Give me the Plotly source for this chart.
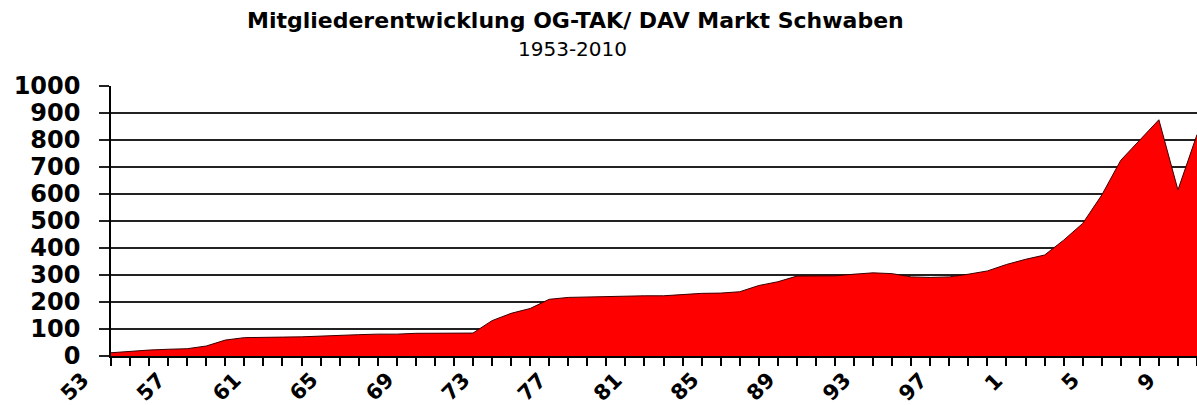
import plotly.graph_objects as go

years = list(range(1953, 2011))
members = [12, 18, 22, 25, 27, 37, 59, 68, 68, 70,
           71, 74, 78, 79, 81, 81, 84, 84, 84, 85,
           131, 158, 176, 210, 217, 219, 219, 222, 223, 223,
           227, 232, 233, 238, 261, 275, 296, 297, 297, 303,
           308, 305, 293, 291, 293, 303, 315, 339, 358, 374,
           429, 491, 596, 725, 799, 875, 615, 820]
label_years = [1953, 1957, 1961, 1965, 1969, 1973, 1977, 1981, 1985,
               1989, 1993, 1997, 2001, 2005, 2009]
label_texts = ["53", "57", "61", "65", "69", "73", "77", "81", "85",
               "89", "93", "97", "1", "5", "9"]
y_ticks = [0, 100, 200, 300, 400, 500, 600, 700, 800, 900, 1000]

fig = go.Figure()
fig.add_trace(go.Scatter(
    x=years, y=members, mode="lines", fill="tozeroy",
    fillcolor="#FF0000", line=dict(color="#3a0000", width=1),
    hoverinfo="x+y", showlegend=False,
))

fam = "DejaVu Sans"
annotations = [
    dict(text="<b>Mitgliederentwicklung OG-TAK/ DAV Markt Schwaben</b>",
         xref="paper", yref="paper", x=(575 - 111) / 1086, y=(356 - 35) / 270,
         xanchor="center", yanchor="bottom", showarrow=False,
         font=dict(family=fam, size=22, color="black")),
    dict(text="1953-2010",
         xref="paper", yref="paper", x=(572 - 111) / 1086, y=(356 - 35) / 270,
         xanchor="center", yanchor="top", showarrow=False,
         font=dict(family=fam, size=20, color="black")),
]
for yr, txt in zip(label_years, label_texts):
    annotations.append(dict(
        text="<b>" + txt + "</b>", x=yr, xref="x", y=0, yref="paper",
        xanchor="right", yanchor="top", xshift=-15, yshift=-9,
        textangle=-45, showarrow=False,
        font=dict(family=fam, size=21, color="black"),
    ))

fig.update_layout(
    width=1197, height=405,
    margin=dict(l=111, r=0, t=86, b=49, autoexpand=False),
    paper_bgcolor="white", plot_bgcolor="white",
    xaxis=dict(
        range=[1953, 2010], tickmode="array", tickvals=years,
        ticktext=["" for _ in years], automargin=False,
        ticks="outside", ticklen=8, tickcolor="black", tickwidth=1.5,
        showgrid=False, showline=True, linecolor="black", linewidth=1.5,
        zeroline=False, fixedrange=True,
    ),
    yaxis=dict(
        range=[0, 1000], tickmode="array", tickvals=y_ticks, automargin=False,
        ticks="outside", ticklen=10, tickcolor="#222", tickwidth=1.5,
        showgrid=True, gridcolor="#222", gridwidth=1.5,
        showline=True, linecolor="black", linewidth=1.5,
        tickfont=dict(family=fam, size=24, color="black", weight="bold"),
        ticklabelstandoff=14, zeroline=False, fixedrange=True,
    ),
    annotations=annotations,
)

fig.write_html("out.html", config={"displayModeBar": False},
               post_script="document.body.style.margin='0';document.body.style.overflow='hidden';")
